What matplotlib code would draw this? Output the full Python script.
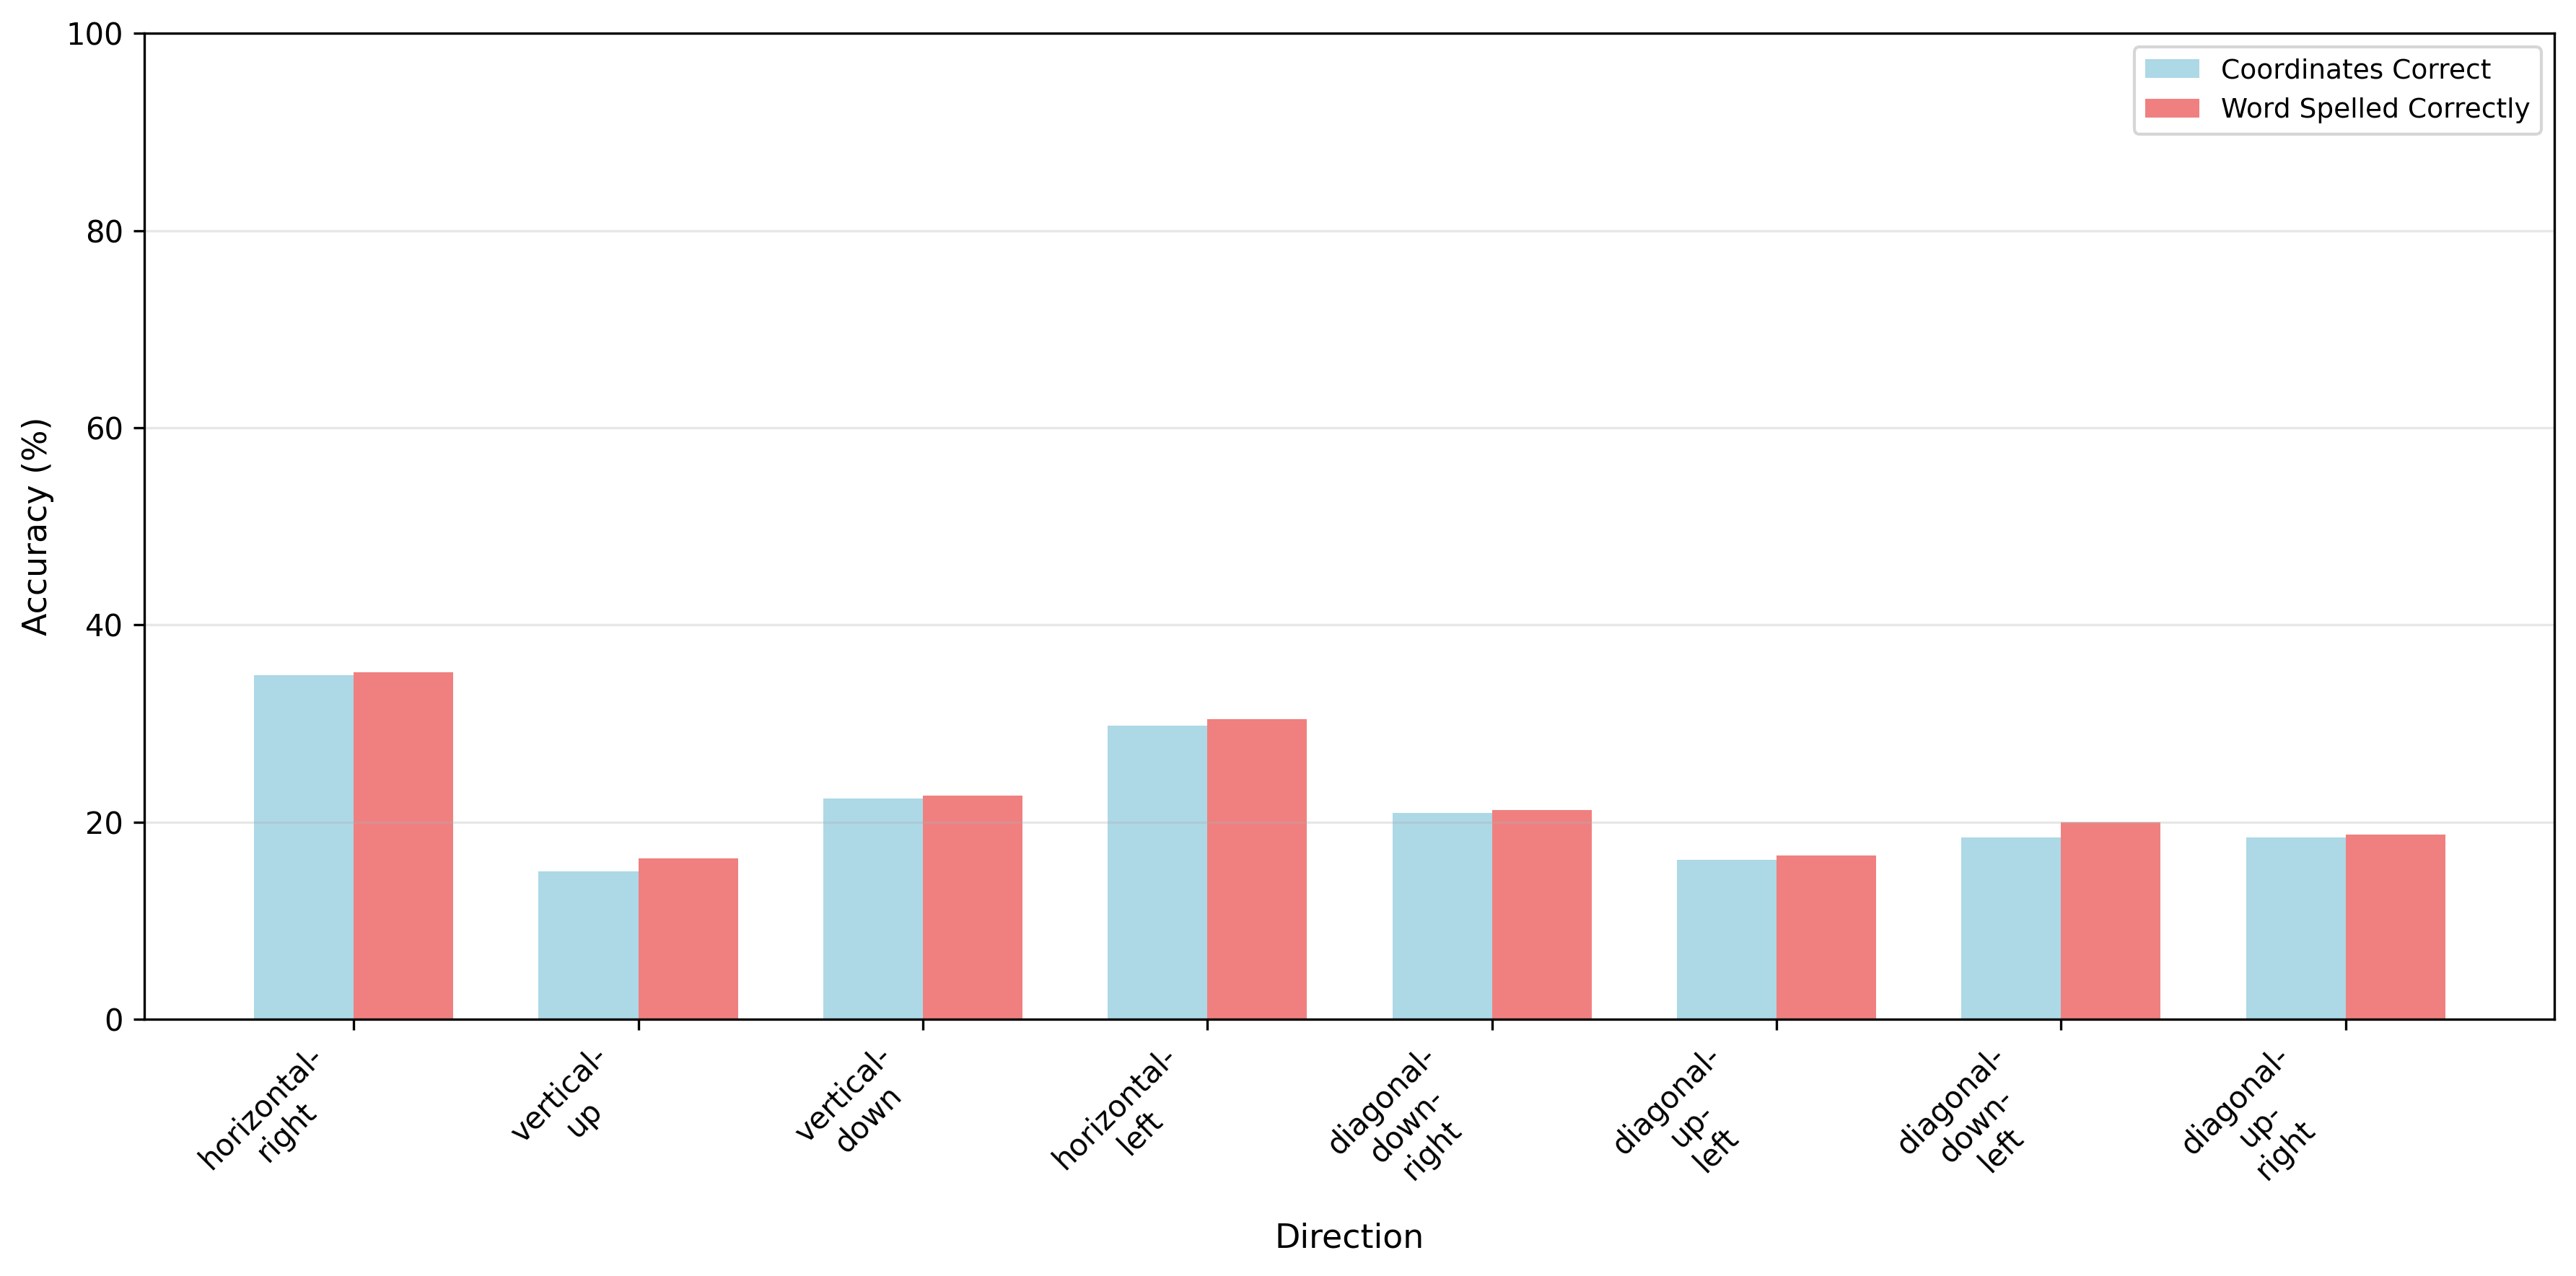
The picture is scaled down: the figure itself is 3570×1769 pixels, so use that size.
import numpy as np
import matplotlib
matplotlib.use("Agg")
import matplotlib.pyplot as plt

directions = ["horizontal-right", "vertical-up", "vertical-down", "horizontal-left",
              "diagonal-down-right", "diagonal-up-left", "diagonal-down-left", "diagonal-up-right"]
coords_correct = [34.9, 15.0, 22.4, 29.8, 20.9, 16.2, 18.4, 18.4]
word_correct = [35.2, 16.3, 22.7, 30.4, 21.2, 16.6, 20.0, 18.7]

x = np.arange(len(directions))
width = 0.35

fig, ax = plt.subplots(figsize=(12, 6))
ax.bar(x - width/2, coords_correct, width, label="Coordinates Correct", color="lightblue")
ax.bar(x + width/2, word_correct, width, label="Word Spelled Correctly", color="lightcoral")

ax.set_xlabel("Direction", fontsize=11)
ax.set_ylabel("Accuracy (%)", fontsize=11)
ax.set_xticks(x)
ax.set_xticklabels([d.replace("-", "-\n") for d in directions], rotation=45, ha="right",
                   multialignment="center")
ax.set_ylim(0, 100)
ax.legend(fontsize=9)
ax.grid(axis="y", alpha=0.3)

plt.tight_layout()
plt.savefig("out.png", dpi=300, bbox_inches="tight")
